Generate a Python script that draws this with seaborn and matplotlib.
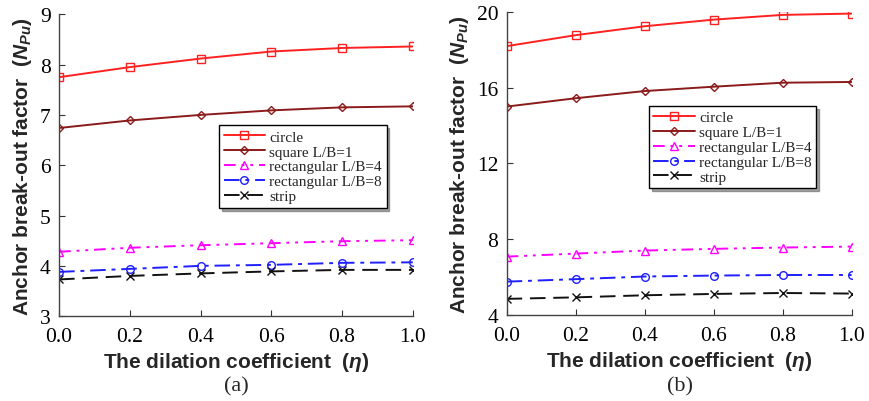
import pandas as pd
import seaborn as sns
import matplotlib.pyplot as plt
import numpy as np

# dilation coefficient
eta = [0.0, 0.2, 0.4, 0.6, 0.8, 1.0]

# panel (a)
a_circle = [7.75, 7.95, 8.12, 8.26, 8.33, 8.36]
a_square = [6.74, 6.89, 7.00, 7.09, 7.15, 7.17]
a_rect4 = [4.28, 4.36, 4.41, 4.45, 4.49, 4.51]
a_rect8 = [3.88, 3.94, 4.00, 4.02, 4.06, 4.07]
a_strip = [3.73, 3.80, 3.85, 3.89, 3.92, 3.92]

# panel (b)
b_circle = [18.19, 18.77, 19.24, 19.59, 19.84, 19.91]
b_square = [15.00, 15.44, 15.82, 16.05, 16.26, 16.30]
b_rect4 = [7.08, 7.24, 7.40, 7.49, 7.56, 7.61]
b_rect8 = [5.76, 5.89, 6.03, 6.08, 6.11, 6.11]
b_strip = [4.85, 4.93, 5.04, 5.11, 5.16, 5.13]

labels = ['circle', 'square L/B=1', 'rectangular L/B=4', 'rectangular L/B=8', 'strip']

sns.set_style('ticks')
plt.rcParams['font.family'] = ['Liberation Serif', 'DejaVu Serif']
plt.rcParams['mathtext.fontset'] = 'custom'
plt.rcParams['mathtext.it'] = 'Liberation Sans:italic:bold'
plt.rcParams['mathtext.rm'] = 'Liberation Sans:bold'
plt.rcParams['mathtext.bf'] = 'Liberation Sans:bold'

styles = [
    dict(color='#ff2020', marker='s', linestyle='-', markersize=6),
    dict(color='#8b1a1a', marker='D', linestyle='-', markersize=4),
    dict(color='#ff00ff', marker='^', linestyle=(0, (6, 3, 1.5, 3, 1.5, 3)), markersize=6),
    dict(color='#1f1fff', marker='o', linestyle=(0, (8, 3, 2, 3)), markersize=5.5),
    dict(color='#111111', marker='x', linestyle=(0, (8, 4)), markersize=6),
]

fig = plt.figure(figsize=(8.69, 4.02), dpi=100)
ax1 = fig.add_axes([0.068, 0.211, 0.407, 0.751])
ax2 = fig.add_axes([0.583, 0.214, 0.397, 0.754])

panels = [
    (ax1, [a_circle, a_square, a_rect4, a_rect8, a_strip], (3, 9), [3, 4, 5, 6, 7, 8, 9], (0.452, 0.632), '(a)', 0.272),
    (ax2, [b_circle, b_square, b_rect4, b_rect8, b_strip], (4, 20), [4, 8, 12, 16, 20], (0.412, 0.69), '(b)', 0.782),
]

for ax, series, ylim, yticks, legpos, tag, tagx in panels:
    for vals, lab, st in zip(series, labels, styles):
        sns.lineplot(x=eta, y=vals, ax=ax, label=lab, color=st['color'],
                     marker=st['marker'], linestyle=st['linestyle'],
                     markersize=st['markersize'], markerfacecolor='none',
                     markeredgecolor=st['color'], markeredgewidth=1.0,
                     linewidth=1.4)
    ax.set_xlim(0, 1)
    ax.set_ylim(*ylim)
    ax.set_xticks(eta)
    ax.set_xticklabels([f'{v:.1f}' for v in eta])
    ax.set_yticks(yticks)
    ax.tick_params(direction='in', length=4, labelsize=15.5, colors='#333333', labelcolor='black')
    ax.tick_params(axis='x', pad=8)
    ax.tick_params(axis='y', pad=6)
    for s in ['top', 'right']:
        ax.spines[s].set_visible(False)
    for s in ['left', 'bottom']:
        ax.spines[s].set_color('#444444')
        ax.spines[s].set_linewidth(1.0)
    ax.set_xlabel(r'The dilation coefficient  ($\eta$)', fontsize=15, fontweight='bold',
                  family='Liberation Sans', labelpad=3)
    ax.set_ylabel(r'Anchor break-out factor  ($N_{Pu}$)', fontsize=15, fontweight='bold',
                  family='Liberation Sans', labelpad=4)
    leg = ax.legend(loc='upper left', bbox_to_anchor=legpos, fontsize=11, frameon=True,
                    fancybox=False, shadow=True, handlelength=2.7, handletextpad=0.3,
                    borderpad=0.3, labelspacing=0.08, borderaxespad=0)
    leg.get_frame().set_edgecolor('black')
    leg.get_frame().set_linewidth(1.0)
    fig.text(tagx, 0.037, tag, fontsize=16, ha='center', va='center')

plt.savefig('out.png', dpi=100)
